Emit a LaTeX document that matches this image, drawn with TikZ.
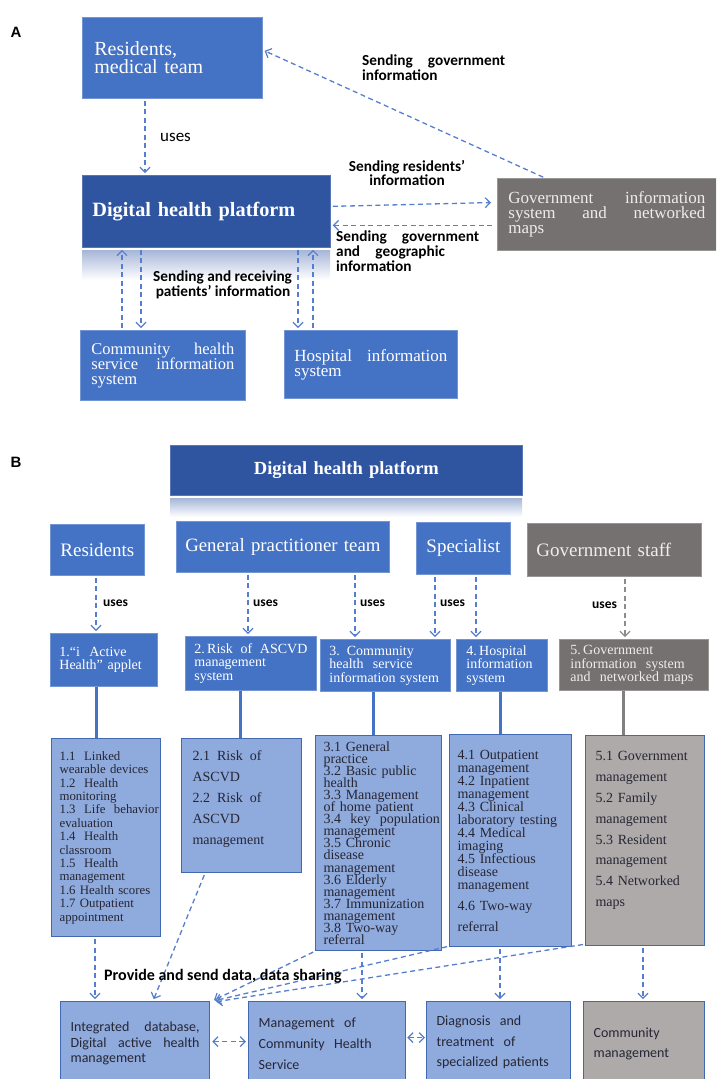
\documentclass[tikz,border=0pt]{standalone}
\usepackage{fontspec}
\setmainfont{Liberation Serif}
\newfontfamily\calfont{Carlito}
\newfontfamily\arialf{Liberation Sans}
\usetikzlibrary{arrows.meta}
\definecolor{mblue}{RGB}{68,114,196}
\definecolor{dblue}{RGB}{47,84,160}
\definecolor{gboxc}{RGB}{118,113,113}
\definecolor{lblue}{RGB}{143,170,220}
\definecolor{lgray}{RGB}{174,170,170}
\definecolor{bord}{RGB}{66,104,178}
\definecolor{arrc}{RGB}{86,126,206}
\definecolor{garrc}{RGB}{140,140,140}
\definecolor{tdark}{RGB}{38,38,52}
\definecolor{bandc}{RGB}{166,182,216}
\newcommand\fz[2]{\fontsize{#1}{#2}\selectfont\lineskiplimit=-20pt\relax}
\newcommand\sline[1]{\makebox[\linewidth][s]{#1}}
\begin{document}
\begin{tikzpicture}[x=1pt,y=-1pt,
  anybox/.style={anchor=north west, inner ysep=0pt, align=left},
  mbox/.style={anybox, fill=mblue, draw=mblue!75!white, line width=0.8pt, text=white},
  dbox/.style={anybox, fill=dblue, draw=dblue!80!white, line width=0.8pt, text=white},
  gbox/.style={anybox, fill=gboxc, draw=gboxc!75!white, line width=0.8pt, text=white!93!black},
  lbox/.style={anybox, fill=lblue, draw=bord, line width=1.2pt, text=tdark},
  lgbox/.style={anybox, fill=lgray, draw=bord, line width=1.2pt, text=tdark},
  dar/.style={draw=arrc, line width=1.3pt, dash pattern=on 5pt off 3.5pt,
    shorten >=2pt, shorten <=2pt,
    -{Straight Barb[length=5pt,width=10pt,line width=1.2pt]}},
  gdar/.style={dar, draw=garrc},
  ddar/.style={dar, {Straight Barb[length=5pt,width=10pt,line width=1.2pt]}-{Straight Barb[length=5pt,width=10pt,line width=1.2pt]}},
  sline/.style={draw=mblue, line width=3pt},
  gline/.style={draw=gray, line width=3pt},
  lab/.style={font=\calfont\bfseries\fz{15.3}{14.6}, text=black, inner sep=0pt, align=left},
  ulab/.style={font=\calfont\bfseries\fz{13.5}{13}, text=black, inner sep=0pt, anchor=west}
]
\path[use as bounding box] (0,0) rectangle (716,1079);
\clip (0,0) rectangle (716,1079);

% ================= Part A =================
\node[font=\arialf\bfseries\fz{15}{15}, inner sep=0pt] (labA) at (16,32) {A};

\node[mbox, text width=156pt, inner xsep=12pt, minimum height=81pt, font=\fz{20}{18}] (resA) at (82,17) {Residents,\\ medical team};
\node[dbox, text width=228pt, inner xsep=10pt, minimum height=72pt, font=\bfseries\fz{20.3}{22}] (platA) at (82,175) {Digital health platform};
\node[gbox, text width=197pt, inner xsep=11pt, minimum height=72pt, font=\fz{17}{15}] (govA) at (497,178) {Government\hfill information\\ system\hfill and\hfill networked\\ maps};
\node[mbox, text width=143pt, inner xsep=11pt, minimum height=70pt, font=\fz{16.5}{15}] (commA) at (80,330) {Community\hfill health\\ service\hfill information\\ system};
\node[mbox, text width=153pt, inner xsep=10pt, minimum height=68pt, font=\fz{17}{15}] (hospA) at (284,330) {Hospital\hfill information\\ system};

\shade[top color=bandc, bottom color=white] (82,250) rectangle (330,280);

\draw[dar] ([xshift=63pt]resA.south west) -- ([xshift=63pt]platA.north west);
\draw[dar] ([xshift=48pt]govA.north west) -- ([yshift=-33pt]resA.north east);
\draw[dar, shorten >=6pt] ([yshift=5pt]platA.east) -- ([yshift=12pt]govA.west);
\draw[dar, shorten <=5pt] ([yshift=-11pt]govA.west) -- ([yshift=-14pt]platA.east);
\draw[dar] ([xshift=42pt]commA.north west) -- ([xshift=40pt]platA.south west);
\draw[dar] ([xshift=59pt]platA.south west) -- ([xshift=61pt]commA.north west);
\draw[dar] ([xshift=216pt]platA.south west) -- ([xshift=14pt]hospA.north west);
\draw[dar] ([xshift=29pt]hospA.north west) -- ([xshift=231pt]platA.south west);

\node[font=\calfont\fz{17}{15}, inner sep=0pt, anchor=west] (usesA) at (160,137) {uses};
\node[lab, anchor=north west, text width=143pt] (sgi) at (362,55) {Sending\hfill government\\ information};
\node[lab, align=center] (sri) at (407,173) {Sending residents’\\ information};
\node[lab, anchor=north west, text width=143pt] (sggi) at (336,231) {Sending\hfill government\\ and\ \ \ geographic\\ information};
\node[lab, anchor=north west] (srpi) at (153,271) {Sending and receiving\\ \,patients’ information};

% ================= Part B =================
\node[font=\arialf\bfseries\fz{15}{15}, inner sep=0pt] (labB) at (16,462) {B};

\node[dbox, text width=352pt, inner xsep=0pt, align=center, minimum height=50pt, font=\bfseries\fz{18.5}{20}] (platB) at (170,445) {Digital health platform};
\shade[top color=bandc, bottom color=white] (170,498) rectangle (522,517);

\node[mbox, text width=94pt, inner xsep=0pt, align=center, minimum height=51pt, font=\fz{19}{20}] (resB) at (50,524) {Residents};
\node[mbox, text width=213pt, inner xsep=0pt, align=center, minimum height=51pt, font=\fz{18.8}{20}] (gpB) at (176,521) {General practitioner team};
\node[mbox, text width=94pt, inner xsep=0pt, align=center, minimum height=52pt, font=\fz{19}{20}] (specB) at (416,522) {Specialist};
\node[gbox, text width=156pt, inner xsep=9pt, minimum height=53pt, font=\fz{19}{20}] (govS) at (527,523) {Government staff};

\node[mbox, text width=89pt, inner xsep=9pt, minimum height=53pt, font=\fz{14}{13.5}] (m1) at (50,633) {1.“i\ \ Active\\ Health” applet};
\node[mbox, text width=113pt, inner xsep=9pt, minimum height=54pt, font=\fz{14}{13.5}] (m2) at (185,636) {2.\,Risk\hfill of\hfill ASCVD\\ management\\ system};
\node[mbox, text width=112pt, inner xsep=9pt, minimum height=52pt, font=\fz{14}{13.5}] (m3) at (320,639) {3. Community\\ health\ \ service\\ information system};
\node[mbox, text width=71pt, inner xsep=10pt, minimum height=52pt, font=\fz{14}{13.5}] (m4) at (456,639) {4.\,Hospital\\ information\\ system};
\node[gbox, text width=127pt, inner xsep=11pt, minimum height=51pt, font=\fz{14}{13.5}] (m5) at (559,639) {5.\,Government\\ information\ \ system\\ and\ \ networked maps};

\draw[dar] ([xshift=46pt]resB.south west) -- ([xshift=46pt]m1.north west);
\draw[dar] ([xshift=72pt]gpB.south west) -- ([xshift=63pt]m2.north west);
\draw[dar] ([xshift=179pt]gpB.south west) -- ([xshift=35pt]m3.north west);
\draw[dar] ([xshift=19pt]specB.south west) -- ([xshift=115pt]m3.north west);
\draw[dar] ([xshift=60pt]specB.south west) -- ([xshift=20pt]m4.north west);
\draw[gdar] ([xshift=98pt]govS.south west) -- ([xshift=66pt]m5.north west);

\node[ulab] (u1) at (103,603) {uses};
\node[ulab] (u2) at (253,603) {uses};
\node[ulab] (u3) at (360,603) {uses};
\node[ulab] (u4) at (440,603) {uses};
\node[ulab] (u5) at (592,605) {uses};

\node[lbox, text width=93pt, inner xsep=8pt, minimum height=198pt, font=\fz{12.8}{13.4}] (L1) at (51,738)
 {1.1\ \ Linked\\ \mbox{wearable devices}\\ 1.2\ \ Health\\ monitoring\\ \sline{1.3\ \ Life\ \ behavior}\\ evaluation\\ 1.4\ \ Health\\ classroom\\ 1.5\ \ Health\\ management\\ \mbox{1.6 Health scores}\\ \mbox{1.7 Outpatient}\\ appointment};
\node[lbox, text width=98pt, inner xsep=11pt, minimum height=134pt, font=\fz{14}{21}] (L2) at (181,738)
 {2.1 \,Risk \,of\\ ASCVD\\ 2.2 \,Risk \,of\\ ASCVD\\ management\par\kern14pt};
\node[lbox, text width=110pt, inner xsep=8pt, minimum height=215pt, font=\fz{14}{12.1}] (L3) at (315,735)
 {3.1 General\\ practice\\ 3.2 Basic public\\ health\\ 3.3 Management\\ of home patient\\ \mbox{3.4\ \ key\ \ population}\\ management\\ 3.5 Chronic\\ disease\\ management\\ 3.6 Elderly\\ management\\ \mbox{3.7 Immunization}\\ management\\ 3.8 Two-way\\ referral};
\node[lbox, text width=106pt, inner xsep=8pt, minimum height=212pt, font=\fz{14}{13}] (L4) at (449,734)
 {4.1 Outpatient\\ management\\ 4.2 Inpatient\\ management\\ 4.3 Clinical\\ \mbox{laboratory testing}\\ 4.4 Medical\\ imaging\\ 4.5 Infectious\\ disease\\ management\\[8pt] 4.6 Two-way\\[8pt] referral};
\node[lgbox, text width=99pt, inner xsep=10pt, minimum height=210pt, font=\fz{14}{20.8}] (L5) at (585,735)
 {5.1 Government\\ management\\ 5.2 Family\\ management\\ 5.3 Resident\\ management\\ 5.4 Networked\\ maps\par\kern20pt};

\draw[sline] ([xshift=46pt]m1.south west) -- ([xshift=45pt]L1.north west);
\draw[sline] ([xshift=55pt]m2.south west) -- ([xshift=59pt]L2.north west);
\draw[sline] ([xshift=53pt]m3.south west) -- ([xshift=58pt]L3.north west);
\draw[sline] ([xshift=44pt]m4.south west) -- ([xshift=51pt]L4.north west);
\draw[gline] ([xshift=64pt]m5.south west) -- ([xshift=38pt]L5.north west);

\node[lbox, text width=129pt, inner xsep=10pt, minimum height=100pt, font=\calfont\fz{14}{15.5}] (B1) at (60,1001)
 {Integrated\hfill database,\\ Digital\hfill active\hfill health\\ management\par\kern16pt};
\node[lbox, text width=137pt, inner xsep=10pt, minimum height=100pt, font=\calfont\fz{14}{21}] (B2) at (248,1001)
 {Management\ \ of\\ Community\ \ Health\\ Service\par\kern15pt};
\node[lbox, text width=124pt, inner xsep=10pt, minimum height=100pt, font=\calfont\fz{14}{20.5}] (B3) at (426,1001)
 {Diagnosis\ \ and\\ treatment\ \ of\\ specialized patients\par\kern18pt};
\node[lgbox, text width=101pt, inner xsep=10pt, minimum height=100pt, font=\calfont\fz{14}{19.5}] (B4) at (583,1001)
 {Community\\ management\par\kern15pt};

\draw[dar] ([xshift=44pt]L1.south west) -- ([xshift=35pt]B1.north west);
\draw[dar] ([xshift=24pt]L2.south west) -- ([xshift=93pt]B1.north west);
\draw[dar] (L3.south west) -- ([xshift=2pt]B1.north east);
\draw[dar] ([yshift=1pt]L4.south west) -- ([xshift=3pt]B1.north east);
\draw[dar] ([yshift=2pt]L5.south west) -- ([xshift=4pt,yshift=-1pt]B1.north east);
\draw[dar] ([xshift=47pt]L3.south west) -- ([xshift=114pt]B2.north west);
\draw[dar] ([xshift=51pt]L4.south west) -- ([xshift=74pt]B3.north west);
\draw[dar] ([xshift=58pt]L5.south west) -- ([xshift=60pt]B4.north west);
\draw[ddar] ([yshift=10pt]B1.east) -- ([yshift=10pt]B2.west);
\draw[ddar, shorten >=1pt, shorten <=1pt] ([yshift=14pt]B2.east) -- ([yshift=14pt]B3.west);

\node[lab, anchor=west, font=\calfont\bfseries\fz{16}{15}] (prov) at (104,976) {Provide and send data, data sharing};
\end{tikzpicture}
\end{document}
